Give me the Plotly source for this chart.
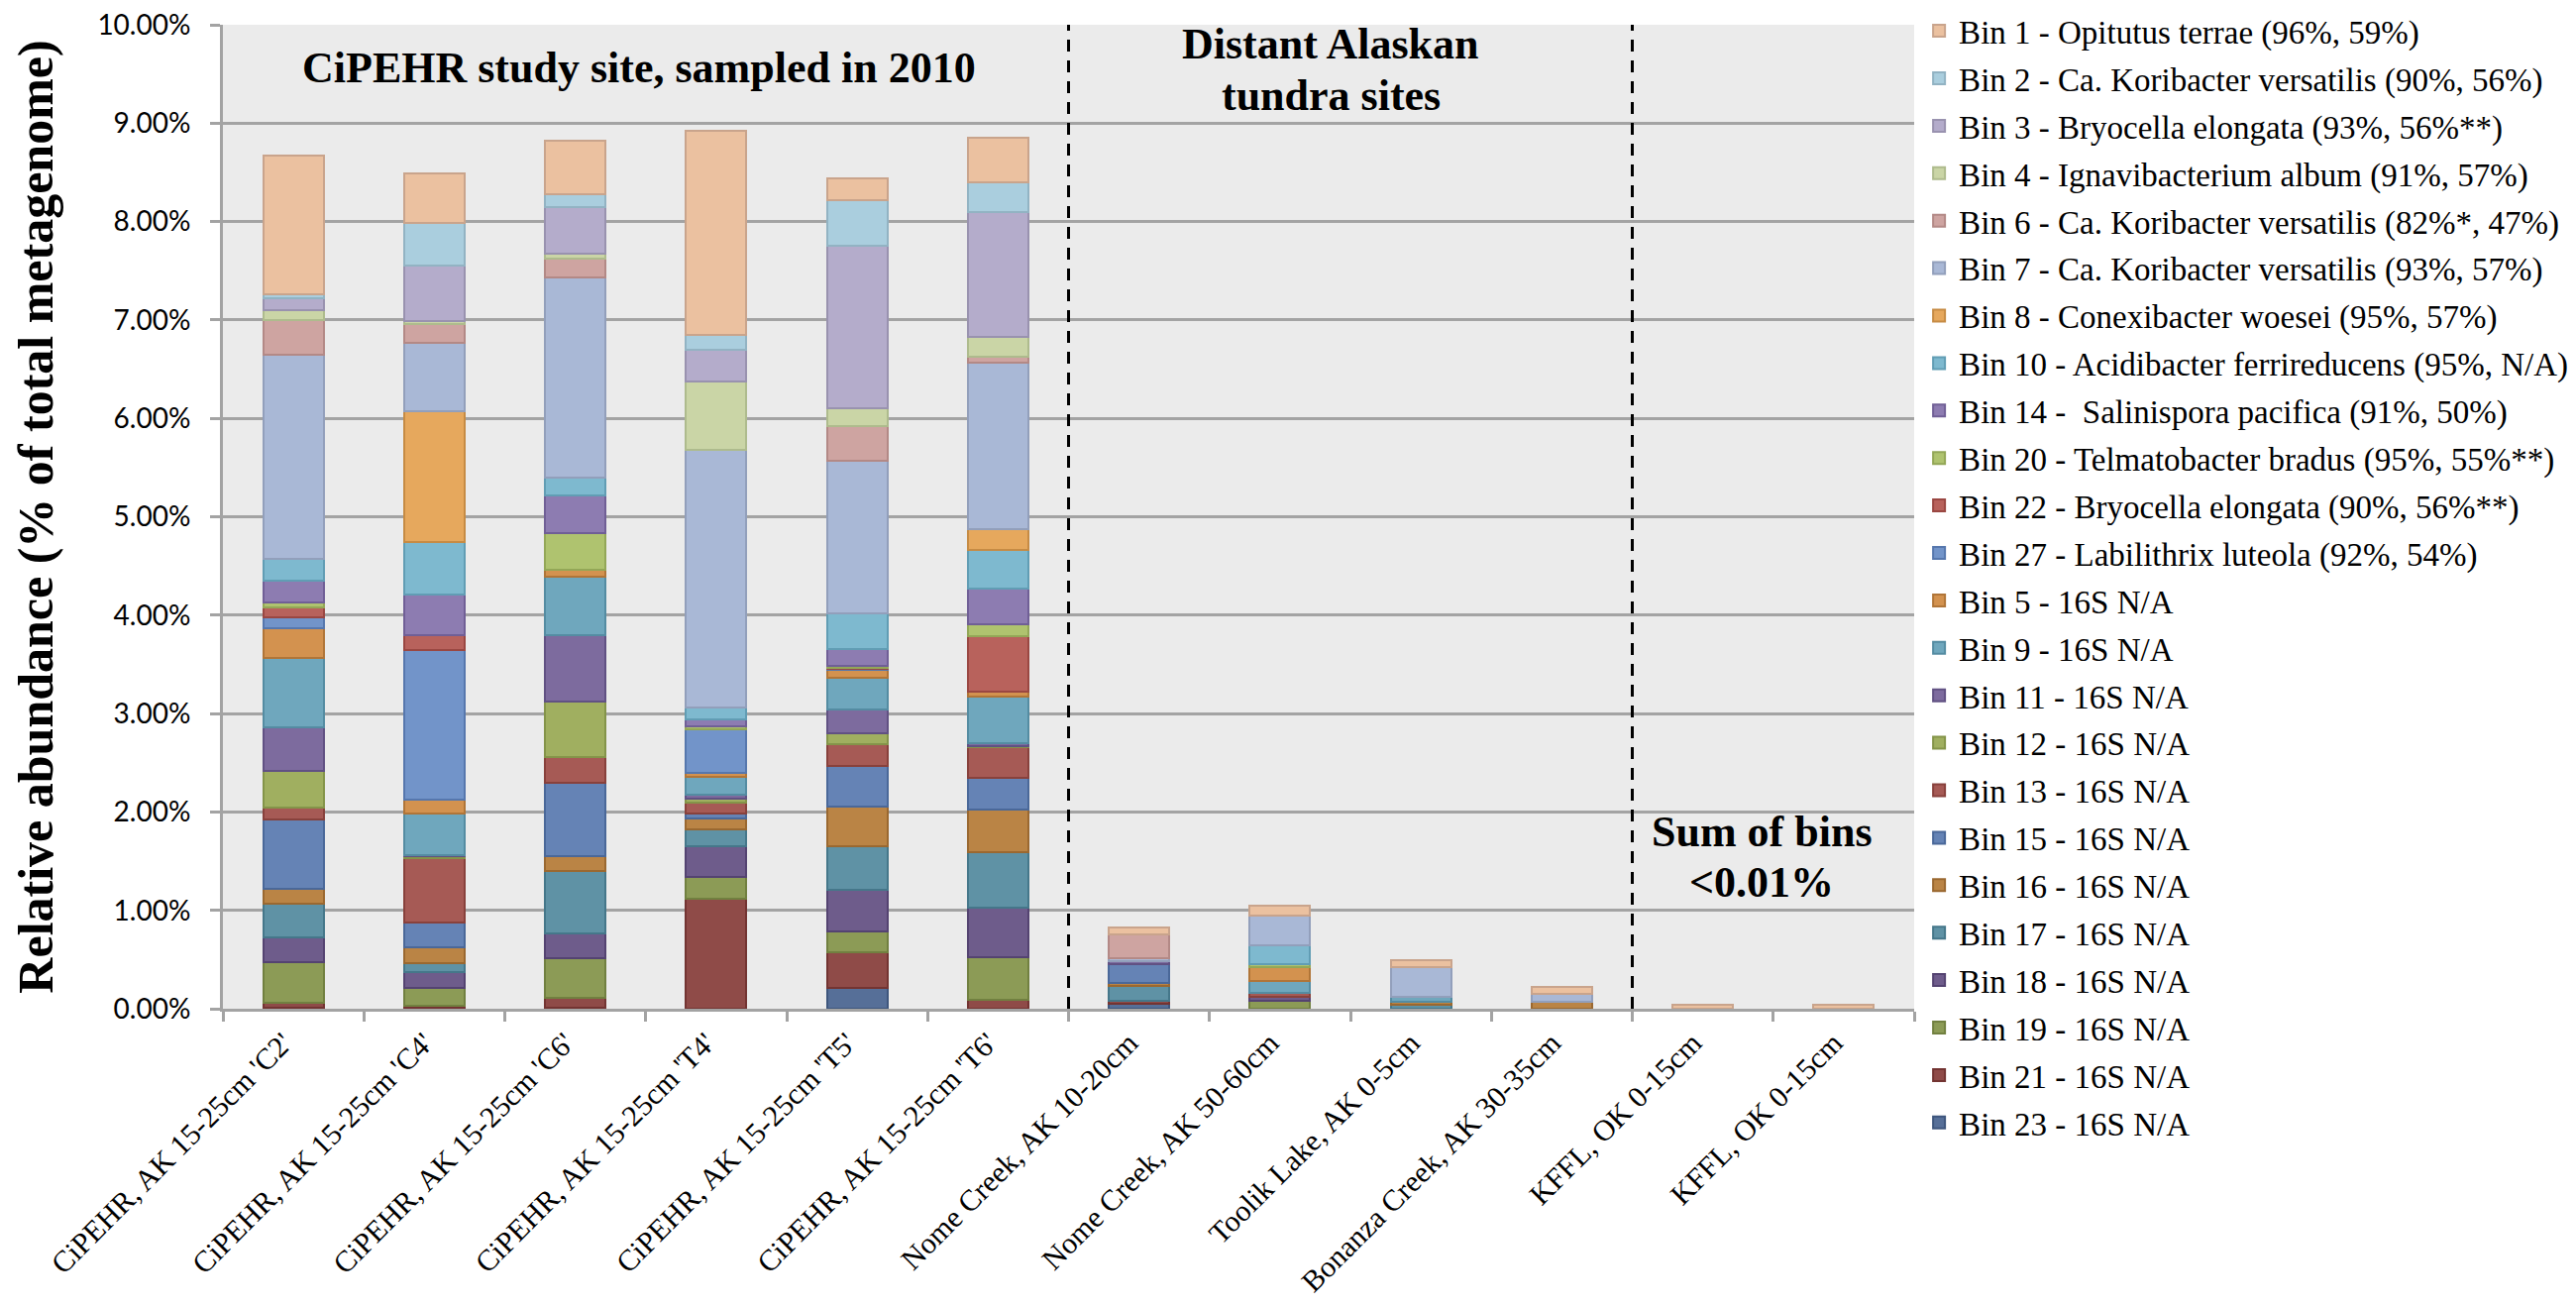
import plotly.graph_objects as go

# Sampling sites (x categories)
sites = [
    "CiPEHR, AK 15-25cm 'C2'",
    "CiPEHR, AK 15-25cm 'C4'",
    "CiPEHR, AK 15-25cm 'C6'",
    "CiPEHR, AK 15-25cm 'T4'",
    "CiPEHR, AK 15-25cm 'T5'",
    "CiPEHR, AK 15-25cm 'T6'",
    "Nome Creek, AK 10-20cm",
    "Nome Creek, AK 50-60cm",
    "Toolik Lake, AK 0-5cm",
    "Bonanza Creek, AK 30-35cm",
    "KFFL, OK 0-15cm",
    "KFFL, OK 0-15cm",
]

# Relative abundance (% of total metagenome), one list per bin, site order as above
bin1 = [1.41, 0.50, 0.54, 2.07, 0.22, 0.45, 0.07, 0.10, 0.07, 0.07, 0.04, 0.04]
bin2 = [0.04, 0.44, 0.13, 0.15, 0.47, 0.30, 0, 0, 0, 0, 0, 0]
bin3 = [0.12, 0.56, 0.48, 0.33, 1.65, 1.27, 0, 0, 0, 0, 0, 0]
bin4 = [0.10, 0.03, 0.05, 0.69, 0.18, 0.20, 0, 0, 0, 0, 0, 0]
bin6 = [0.35, 0.19, 0.19, 0, 0.35, 0.06, 0.25, 0, 0, 0, 0, 0]
bin7 = [2.08, 0.70, 2.03, 2.62, 1.55, 1.70, 0.03, 0.31, 0.30, 0.08, 0, 0]
bin8 = [0, 1.33, 0, 0, 0, 0.21, 0, 0, 0, 0, 0, 0]
bin10 = [0.22, 0.53, 0.18, 0.12, 0.36, 0.39, 0, 0.19, 0, 0, 0, 0]
bin14 = [0.22, 0.41, 0.39, 0.07, 0.18, 0.36, 0, 0, 0, 0, 0, 0]
bin20 = [0.05, 0, 0.37, 0.03, 0.02, 0.12, 0, 0.03, 0, 0, 0, 0]
bin22 = [0.10, 0.15, 0, 0, 0.01, 0.57, 0, 0, 0, 0, 0, 0]
bin27 = [0.11, 1.53, 0, 0.44, 0.01, 0, 0, 0, 0, 0, 0, 0]
bin5 = [0.30, 0.14, 0.07, 0.04, 0.08, 0.05, 0, 0.14, 0, 0, 0, 0]
bin9 = [0.71, 0.42, 0.59, 0.18, 0.32, 0.47, 0, 0.12, 0.05, 0, 0, 0]
bin11 = [0.44, 0.01, 0.68, 0.05, 0.24, 0.03, 0.03, 0, 0, 0, 0, 0]
bin12 = [0.38, 0.02, 0.56, 0.04, 0.11, 0.01, 0, 0, 0, 0, 0, 0]
bin13 = [0.12, 0.65, 0.26, 0.11, 0.22, 0.31, 0, 0.04, 0, 0, 0, 0]
bin15 = [0.70, 0.26, 0.75, 0.05, 0.42, 0.33, 0.19, 0, 0, 0, 0, 0]
bin16 = [0.15, 0.16, 0.15, 0.11, 0.40, 0.43, 0.03, 0, 0.03, 0.07, 0, 0]
bin17 = [0.34, 0.09, 0.63, 0.17, 0.44, 0.56, 0.15, 0, 0.04, 0, 0, 0]
bin18 = [0.26, 0.16, 0.26, 0.31, 0.42, 0.51, 0, 0.04, 0, 0, 0, 0]
bin19 = [0.41, 0.18, 0.40, 0.22, 0.22, 0.43, 0, 0.08, 0, 0, 0, 0]
bin21 = [0.05, 0.02, 0.10, 1.12, 0.36, 0.09, 0.03, 0, 0, 0, 0, 0]
bin23 = [0.01, 0.01, 0.01, 0, 0.21, 0, 0.05, 0, 0, 0, 0, 0]

# Legend order (top of stack first)
bin_labels = [
    "Bin 1 - Opitutus terrae (96%, 59%)",
    "Bin 2 - Ca. Koribacter versatilis (90%, 56%)",
    "Bin 3 - Bryocella elongata (93%, 56%**)",
    "Bin 4 - Ignavibacterium album (91%, 57%)",
    "Bin 6 - Ca. Koribacter versatilis (82%*, 47%)",
    "Bin 7 - Ca. Koribacter versatilis (93%, 57%)",
    "Bin 8 - Conexibacter woesei (95%, 57%)",
    "Bin 10 - Acidibacter ferrireducens (95%, N/A)",
    "Bin 14 -  Salinispora pacifica (91%, 50%)",
    "Bin 20 - Telmatobacter bradus (95%, 55%**)",
    "Bin 22 - Bryocella elongata (90%, 56%**)",
    "Bin 27 - Labilithrix luteola (92%, 54%)",
    "Bin 5 - 16S N/A",
    "Bin 9 - 16S N/A",
    "Bin 11 - 16S N/A",
    "Bin 12 - 16S N/A",
    "Bin 13 - 16S N/A",
    "Bin 15 - 16S N/A",
    "Bin 16 - 16S N/A",
    "Bin 17 - 16S N/A",
    "Bin 18 - 16S N/A",
    "Bin 19 - 16S N/A",
    "Bin 21 - 16S N/A",
    "Bin 23 - 16S N/A",
]
bin_values = [
    bin1, bin2, bin3, bin4, bin6, bin7, bin8, bin10, bin14, bin20, bin22, bin27,
    bin5, bin9, bin11, bin12, bin13, bin15, bin16, bin17, bin18, bin19, bin21, bin23,
]
# (fill, outline)
bin_colors = [
    ("#EBC1A0", "#C9A48C"), ("#AACEDE", "#92B3C3"), ("#B4ACCB", "#9992AF"),
    ("#CAD5A6", "#AEBB8D"), ("#CEA4A1", "#B38986"), ("#A9B8D6", "#929FBB"),
    ("#E6A85D", "#C68B44"), ("#7EB9CF", "#619DB4"), ("#8D7CB1", "#705F96"),
    ("#AFC36F", "#93A757"), ("#B8625C", "#9A4742"), ("#7294C9", "#5677AD"),
    ("#D3924F", "#B07538"), ("#6FA7BD", "#548CA2"), ("#7D6B9E", "#615183"),
    ("#A0AF60", "#849449"), ("#A65A55", "#88413C"), ("#6583B5", "#4A6899"),
    ("#BA8445", "#9A6830"), ("#5F92A5", "#45778A"), ("#6E5C8B", "#544371"),
    ("#8C9B56", "#718040"), ("#8F4B48", "#733432"), ("#566F98", "#3E567D"),
]

SERIF = "Liberation Serif"
GRID = "#A3A3A3"

fig = go.Figure()

# stack bottom-up (Bin 23 first), legend ranked top-down (Bin 1 first)
entries = list(enumerate(zip(bin_labels, bin_values, bin_colors)))
for rank, (label, vals, (fill, edge)) in reversed(entries):
    fig.add_trace(
        go.Bar(
            x=list(range(len(sites))),
            y=[v if v else None for v in vals],
            name=label,
            legendgroup=label,
            legendrank=rank + 1,
            marker={"color": fill, "line": {"color": edge, "width": 2}},
        )
    )

# group separators
for xpos in (5.5, 9.5):
    fig.add_shape(
        type="line", xref="x", yref="paper", x0=xpos, x1=xpos, y0=0, y1=1,
        line={"color": "black", "width": 3, "dash": "12px,9px"},
    )

# group captions, one annotation per text line
ann_font = {"family": SERIF, "size": 44, "color": "black"}
for text, xpos, ypos in [
    ("<b>CiPEHR study site, sampled in 2010</b>", 2.45, 0.956),
    ("<b>Distant Alaskan</b>", 7.36, 0.980),
    ("<b>tundra sites</b>", 7.36, 0.928),
    ("<b>Sum of bins</b>", 10.42, 0.180),
    ("<b><0.01%</b>", 10.42, 0.128),
]:
    fig.add_annotation(text=text, x=xpos, y=ypos, xref="x", yref="paper",
                       xanchor="center", yanchor="middle", showarrow=False, font=ann_font)

fig.update_layout(
    width=2600,
    height=1318,
    barmode="stack",
    bargap=0.57,
    paper_bgcolor="white",
    plot_bgcolor="#EBEBEB",
    margin={"l": 217, "r": 676, "t": 17, "b": 308, "autoexpand": False},
    font={"family": SERIF, "color": "black"},
    legend={
        "traceorder": "grouped",
        "tracegroupgap": 2,
        "x": 1.003,
        "xanchor": "left",
        "y": 1.022,
        "yanchor": "top",
        "maxheight": 1310,
        "font": {"family": SERIF, "size": 33, "color": "black"},
        "bgcolor": "rgba(0,0,0,0)",
    },
    showlegend=True,
)

fig.update_xaxes(
    range=[-0.5, len(sites) - 0.5],
    tickmode="array",
    tickvals=list(range(len(sites))),
    ticktext=sites,
    tickangle=-45,
    ticks="",
    ticklabelshift=-10,
    ticklabelstandoff=2,
    ticklabeloverflow="allow",
    tickfont={"family": SERIF, "size": 30, "color": "black"},
    showgrid=False,
    zeroline=False,
    showline=True,
    linecolor=GRID,
    linewidth=3,
    minor={"tickmode": "linear", "tick0": -0.5, "dtick": 1, "ticks": "outside",
           "ticklen": 10, "tickwidth": 3, "tickcolor": GRID, "showgrid": False},
)
fig.update_yaxes(
    range=[0, 10],
    dtick=1,
    tickformat=".2f",
    ticksuffix="%",
    ticks="outside",
    ticklen=10,
    tickwidth=3,
    tickcolor=GRID,
    ticklabelstandoff=14,
    ticklabeloverflow="allow",
    tickfont={"family": "Lato", "size": 28, "color": "black"},
    showgrid=True,
    gridcolor=GRID,
    gridwidth=3,
    zeroline=False,
    showline=True,
    linecolor=GRID,
    linewidth=3,
    title={"text": "<b>Relative abundance (% of total metagenome)</b>",
           "font": {"family": SERIF, "size": 50, "color": "black"}, "standoff": 64},
)

fig.write_html("out.html")
